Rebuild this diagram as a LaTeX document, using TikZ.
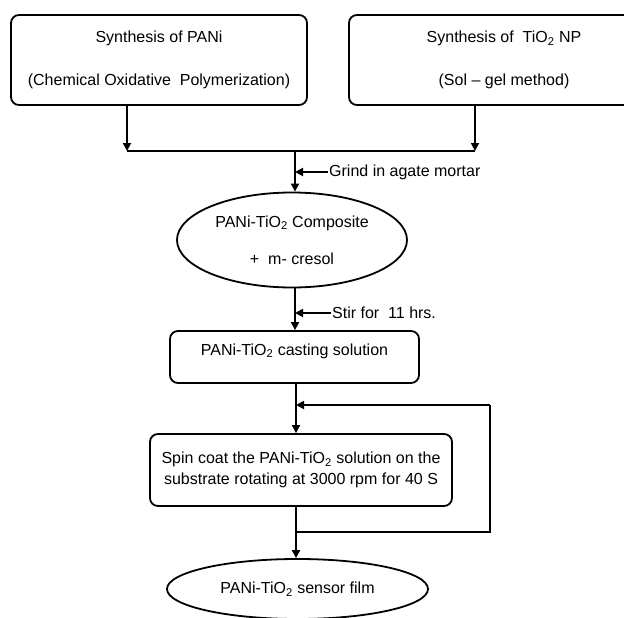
\documentclass[tikz,border=0pt]{standalone}
\usepackage{fontspec}
\setmainfont{Liberation Sans}
\usepackage{tikz}
\usetikzlibrary{arrows.meta, positioning, shapes.geometric, calc}

\begin{document}
\begin{tikzpicture}[x=1pt, y=-1pt,
      stepbox/.style={rectangle, rounded corners=8pt, draw=black, line width=1.8pt,
                      font=\fontsize{16}{19}\selectfont, align=center, inner sep=0pt},
      oval/.style={ellipse, draw=black, line width=1.8pt,
                   font=\fontsize{16}{19}\selectfont, align=center, inner sep=0pt},
      note/.style={font=\fontsize{16}{19}\selectfont, anchor=west, inner sep=1pt},
      arr/.style={-{Triangle[length=8pt, width=8pt]}, line width=1.8pt, black},
      wire/.style={line width=1.8pt, black},
    ]
      \useasboundingbox (0,0) rectangle (624,618);
      \clip (0,0) rectangle (624,618);
      \fill[white] (0,0) rectangle (624,618);

      \node[stepbox, minimum width=296pt, minimum height=90pt] (pani) at (159, 60)
            {Synthesis of PANi\\[24pt](Chemical Oxidative\ \ Polymerization)};
      \node[stepbox, minimum width=310pt, minimum height=90pt] (tio2) at (504, 60)
            {Synthesis of\ \ TiO\textsubscript{2} NP\\[24pt](Sol -- gel method)};

      \coordinate (jL)   at (127, 151);
      \coordinate (jR)   at (475, 151);
      \coordinate (join) at (295, 151);

      \node[oval, minimum width=230pt, minimum height=95pt] (comp) at (292, 240)
            {PANi-TiO\textsubscript{2} Composite\\[18pt]+\ \ m- cresol};
      \node[stepbox, minimum width=249pt, minimum height=52pt] (cast) at (294.5, 357)
            {\raisebox{6pt}[11pt][3pt]{PANi-TiO\textsubscript{2} casting solution}};
      \node[stepbox, minimum width=302pt, minimum height=72pt] (spin) at (301, 470)
            {Spin coat the PANi-TiO\textsubscript{2} solution on the\\[2pt]
             substrate rotating at 3000 rpm for 40 S};
      \node[oval, minimum width=261pt, minimum height=60pt] (film) at (297.5, 589)
            {PANi-TiO\textsubscript{2} sensor film};

      \node[note] (grind) at (328, 172) {Grind in agate mortar};
      \node[note] (stir)  at (331, 313) {Stir for\ \ 11 hrs.};

      \coordinate (loopB) at (296, 532);
      \coordinate (loopR) at (490, 532);
      \coordinate (loopT) at (490, 405);

      \draw[arr]  (pani.south -| jL) -- (jL);
      \draw[arr]  (tio2.south -| jR) -- (jR);
      \draw[wire] (jL) -- (jR);
      \draw[arr]  (join) -- (join |- comp.north);
      \draw[arr]  (grind.west) -- (grind.west -| join);
      \draw[arr]  (comp.south -| join) -- (join |- cast.north);
      \draw[arr]  (stir.west) -- (stir.west -| join);
      \draw[arr]  (cast.south -| loopB) -- (loopB |- spin.north);
      \draw[arr]  (spin.south -| loopB) -- (loopB |- film.north);
      \draw[wire] (loopB) -- (loopR) -- (loopT);
      \draw[arr]  (loopT) -- (loopT -| loopB);
    \end{tikzpicture}
\end{document}
